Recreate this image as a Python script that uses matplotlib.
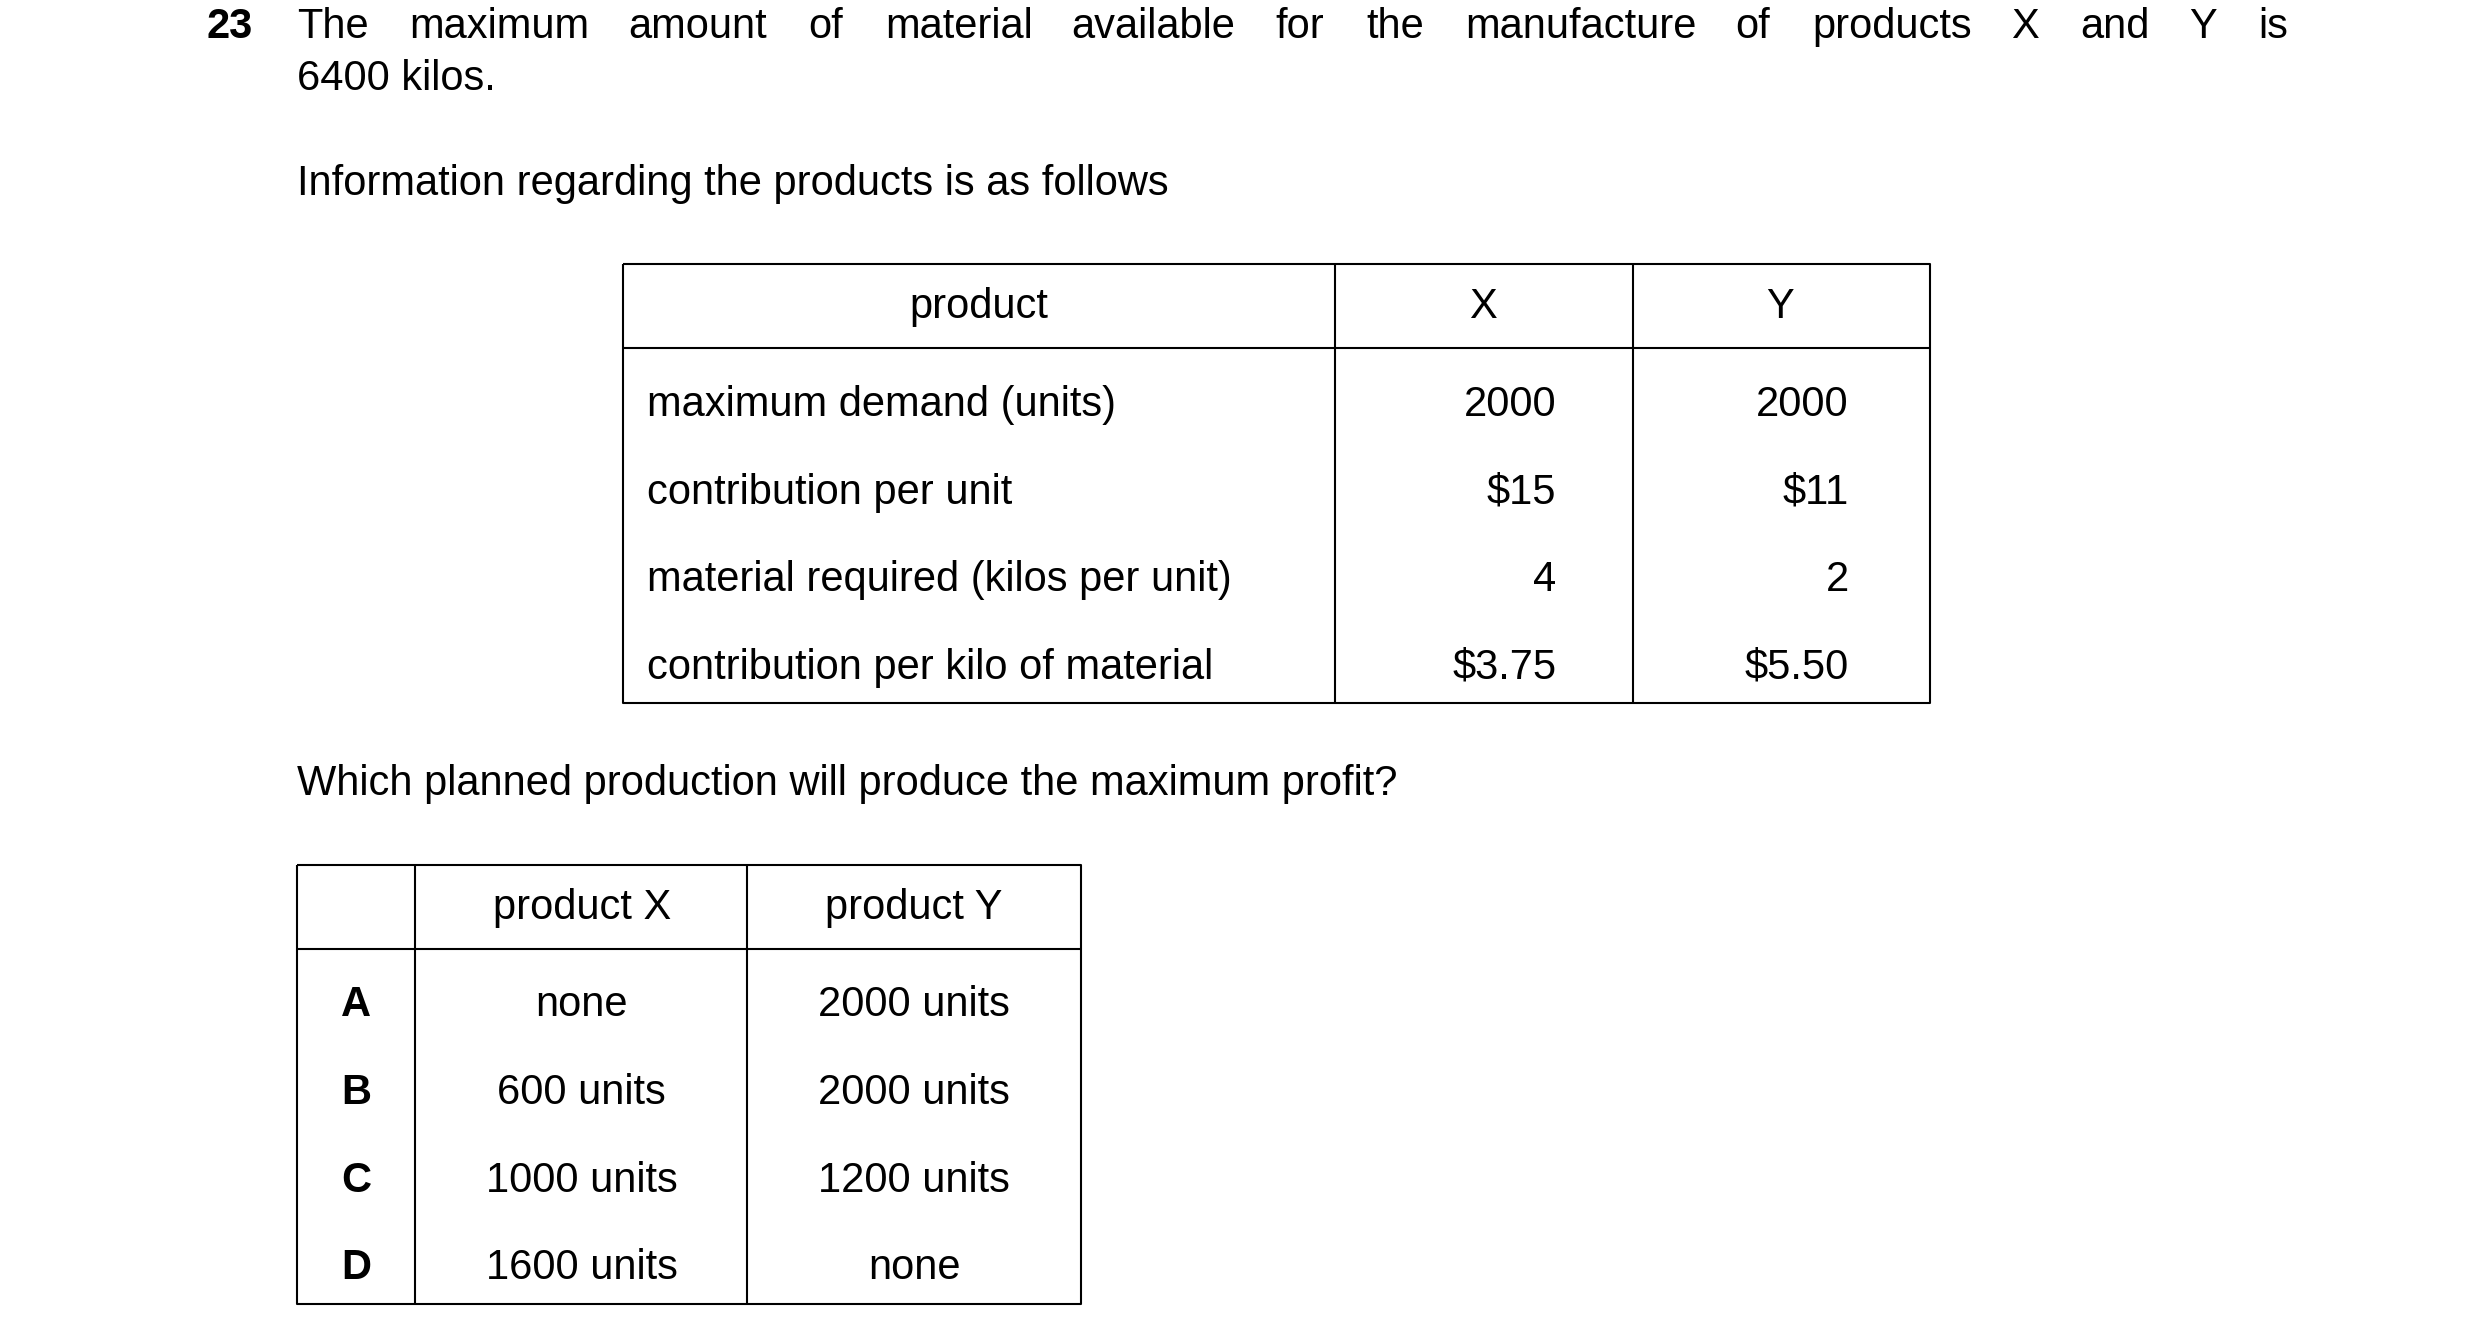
import matplotlib
matplotlib.use("Agg")
import matplotlib.pyplot as plt

plt.rcParams['font.family'] = ['Liberation Sans', 'DejaVu Sans']

question_words = ["The", "maximum", "amount", "of", "material", "available", "for", "the",
                  "manufacture", "of", "products", "X", "and", "Y", "is"]
row_labels = ["maximum demand (units)", "contribution per unit",
              "material required (kilos per unit)", "contribution per kilo of material"]
x_values = ["2000", "$15", "4", "$3.75"]
y_values = ["2000", "$11", "2", "$5.50"]
options = ["A", "B", "C", "D"]
opt_x = ["none", "600 units", "1000 units", "1600 units"]
opt_y = ["2000 units", "2000 units", "1200 units", "none"]

fig = plt.figure(figsize=(24.8, 13.37), dpi=100)
ax = fig.add_axes([0, 0, 1, 1])
ax.set_xlim(0, 1560)
ax.set_ylim(841, 0)
ax.axis('off')
fs = 30
kw = dict(fontsize=fs, va='center', color='black')

ax.text(130, 17, "23", fontweight='bold', ha='left', **kw)
# justified first line
from matplotlib.textpath import TextPath
from matplotlib.font_manager import FontProperties
fp = FontProperties(family='Liberation Sans', size=fs)
widths = [TextPath((0, 0), w, prop=fp).get_extents().width for w in question_words]
scale = 1560 / 2480 * 100 / 72  # points -> data units
widths = [w * scale for w in widths]
x0, x1 = 187, 1437
gap = (x1 - x0 - sum(widths)) / (len(question_words) - 1)
x = x0
for w, wd in zip(question_words, widths):
    ax.text(x, 17, w, ha='left', **kw)
    x += wd + gap
ax.text(187, 50, "6400 kilos.", ha='left', **kw)
ax.text(187, 116, "Information regarding the products is as follows", ha='left', **kw)
ax.text(187, 493, "Which planned production will produce the maximum profit?", ha='left', **kw)

lw = 1.5
def line(xs, ys):
    ax.plot(xs, ys, color='black', lw=lw, solid_capstyle='butt')

# table 1
L, C1, C2, R = 392, 840, 1027, 1214
T, H, B = 166, 219, 442
line([L, R, R, L, L], [T, T, B, B, T])
line([L, R], [H, H])
line([C1, C1], [T, B]); line([C2, C2], [T, B])
ax.text(616, 193, "product", ha='center', **kw)
ax.text(933, 193, "X", ha='center', **kw)
ax.text(1120, 193, "Y", ha='center', **kw)
for i, (lab, xv, yv) in enumerate(zip(row_labels, x_values, y_values)):
    yy = 255 + 55 * i
    ax.text(407, yy, lab, ha='left', **kw)
    ax.text(979, yy, xv, ha='right', **kw)
    ax.text(1163, yy, yv, ha='right', **kw)

# table 2
L, C1, C2, R = 187, 261, 470, 680
T, H, B = 544, 597, 820
line([L, R, R, L, L], [T, T, B, B, T])
line([L, R], [H, H])
line([C1, C1], [T, B]); line([C2, C2], [T, B])
ax.text(366, 571, "product X", ha='center', **kw)
ax.text(575, 571, "product Y", ha='center', **kw)
for i, (o, a, b) in enumerate(zip(options, opt_x, opt_y)):
    yy = 632 + 55.3 * i
    ax.text(224, yy, o, ha='center', fontweight='bold', **kw)
    ax.text(366, yy, a, ha='center', **kw)
    ax.text(575, yy, b, ha='center', **kw)

fig.savefig("out.png", dpi=100)
